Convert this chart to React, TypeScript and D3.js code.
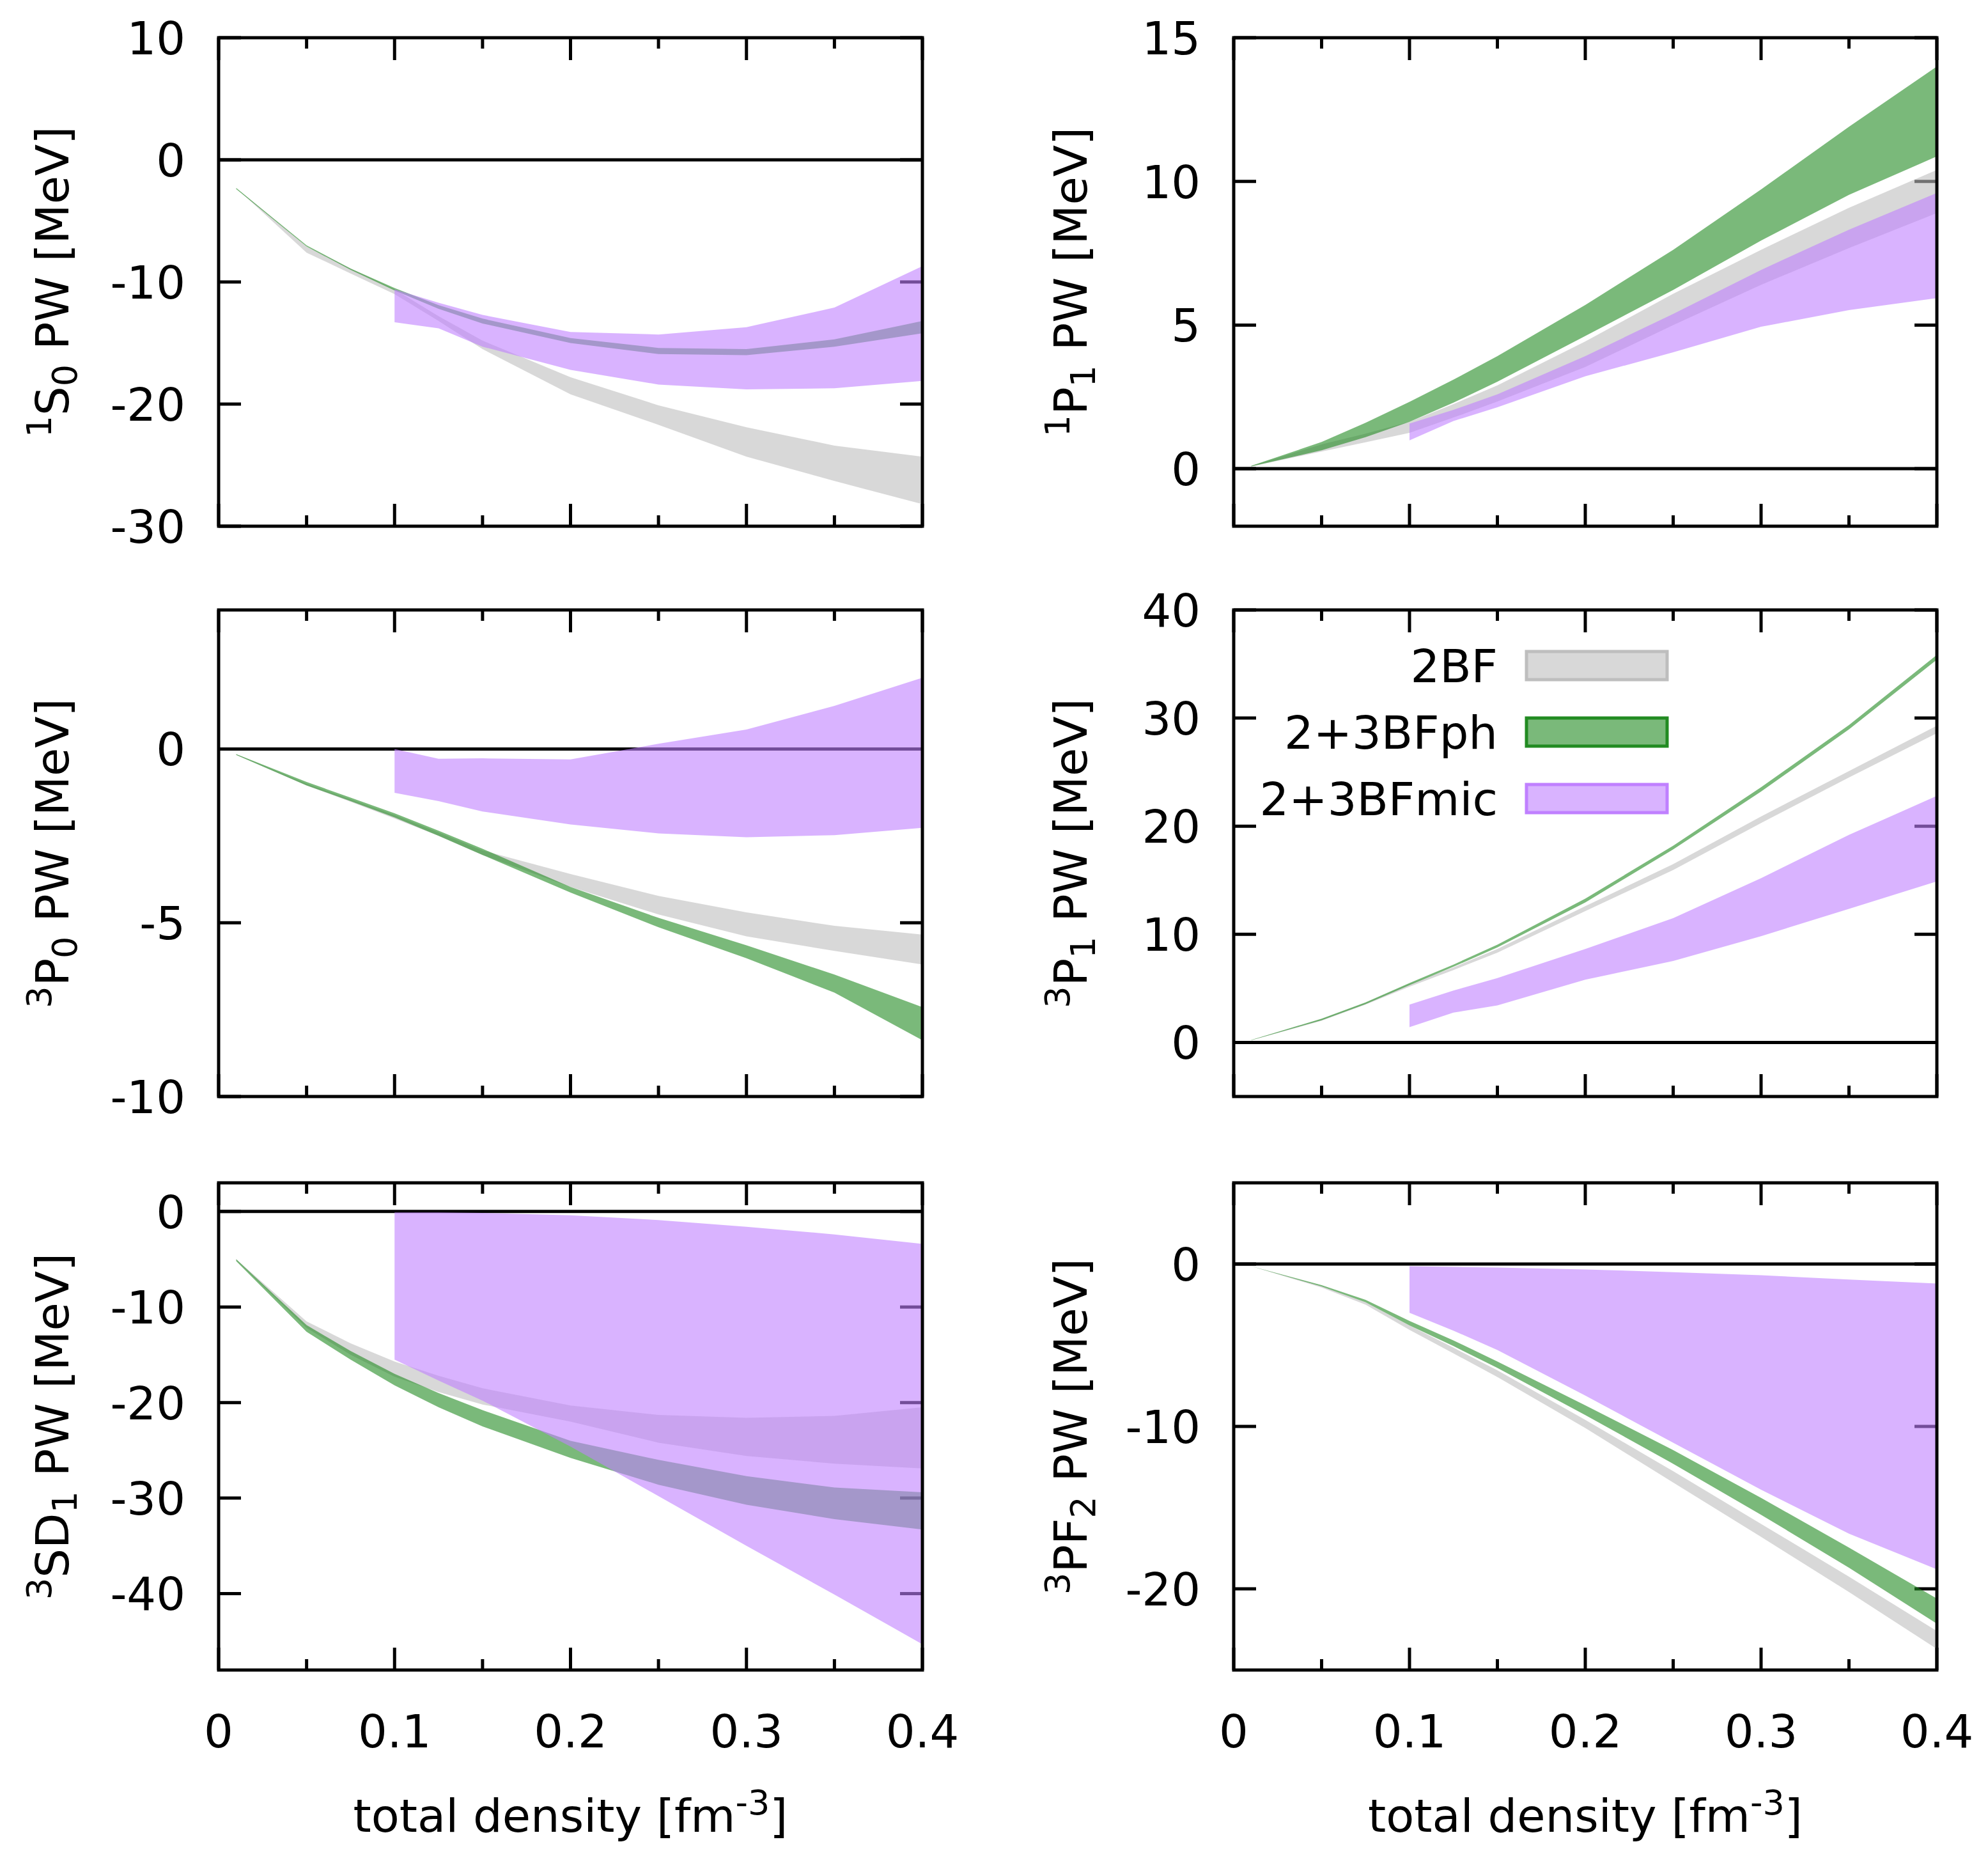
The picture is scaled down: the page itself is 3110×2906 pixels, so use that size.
import React, { useEffect, useRef } from "react";
import * as d3 from "d3";

const W = 3110;
const H = 2906;

// total density [fm^-3]
const density = [0.01, 0.05, 0.075, 0.1, 0.125, 0.15, 0.2, 0.25, 0.3, 0.35, 0.4];
const densityMic = [0.1, 0.125, 0.15, 0.2, 0.25, 0.3, 0.35, 0.4];

// 1S0 partial wave [MeV]
const s1S0_2bfHi = [-2.3, -7.1, -8.9, -10.6, -12.8, -14.8, -17.8, -20.1, -21.9, -23.4, -24.3];
const s1S0_2bfLo = [-2.3, -7.6, -9.3, -11.0, -13.2, -15.5, -19.2, -21.7, -24.3, -26.3, -28.2];
const s1S0_phHi = [-2.3, -7.0, -8.9, -10.5, -11.9, -13.0, -14.6, -15.4, -15.5, -14.7, -13.2];
const s1S0_phLo = [-2.4, -7.1, -9.0, -10.7, -12.2, -13.4, -15.0, -15.9, -16.0, -15.3, -14.2];
const s1S0_micHi = [-10.6, -11.7, -12.7, -14.1, -14.3, -13.7, -12.1, -8.7];
const s1S0_micLo = [-13.3, -13.8, -15.3, -17.2, -18.4, -18.8, -18.7, -18.1];

// 1P1
const p1P1_2bfHi = [0.1, 0.85, 1.22, 1.63, 2.25, 2.9, 4.43, 6.09, 7.62, 9.08, 10.4];
const p1P1_2bfLo = [0.08, 0.6, 0.92, 1.25, 1.78, 2.34, 3.54, 5.0, 6.4, 7.68, 8.9];
const p1P1_phHi = [0.1, 0.93, 1.6, 2.33, 3.1, 3.92, 5.7, 7.62, 9.72, 11.9, 14.0];
const p1P1_phLo = [0.08, 0.64, 1.1, 1.63, 2.3, 3.03, 4.62, 6.22, 7.94, 9.53, 10.87];
const p1P1_micHi = [1.57, 2.05, 2.59, 3.92, 5.39, 6.92, 8.32, 9.6];
const p1P1_micLo = [0.99, 1.66, 2.14, 3.22, 4.05, 4.94, 5.52, 5.94];

// 3P0
const p3P0_2bfHi = [-0.15, -1.0, -1.45, -1.9, -2.4, -2.92, -3.6, -4.23, -4.7, -5.09, -5.34];
const p3P0_2bfLo = [-0.17, -1.05, -1.52, -2.0, -2.5, -3.05, -3.97, -4.76, -5.39, -5.81, -6.2];
const p3P0_phHi = [-0.15, -0.95, -1.4, -1.85, -2.35, -2.87, -3.97, -4.86, -5.65, -6.49, -7.43];
const p3P0_phLo = [-0.17, -1.05, -1.5, -1.97, -2.5, -3.05, -4.13, -5.13, -6.02, -7.01, -8.38];
const p3P0_micHi = [0.0, -0.28, -0.27, -0.3, 0.15, 0.56, 1.24, 2.05];
const p3P0_micLo = [-1.26, -1.5, -1.8, -2.17, -2.43, -2.54, -2.48, -2.27];

// 3P1
const p3P1_2bfHi = [0.22, 2.15, 3.65, 5.4, 6.95, 8.65, 12.6, 16.5, 20.9, 25.1, 29.3];
const p3P1_2bfLo = [0.2, 2.0, 3.5, 5.15, 6.7, 8.3, 12.15, 15.95, 20.3, 24.5, 28.6];
const p3P1_phHi = [0.24, 2.2, 3.7, 5.5, 7.2, 9.05, 13.3, 18.2, 23.6, 29.35, 35.85];
const p3P1_phLo = [0.2, 2.05, 3.55, 5.3, 7.0, 8.8, 12.95, 17.85, 23.2, 28.95, 35.4];
const p3P1_micHi = [3.5, 4.8, 5.96, 8.65, 11.5, 15.2, 19.2, 22.8];
const p3P1_micLo = [1.41, 2.76, 3.43, 5.8, 7.54, 9.83, 12.36, 14.9];

// 3SD1
const sd3SD1_2bfHi = [-5.0, -11.5, -13.8, -15.7, -17.2, -18.5, -20.3, -21.3, -21.6, -21.4, -20.5];
const sd3SD1_2bfLo = [-5.1, -12.2, -15.0, -17.3, -18.9, -20.2, -22.0, -24.2, -25.6, -26.4, -26.9];
const sd3SD1_phHi = [-5.0, -11.9, -14.6, -17.0, -19.0, -20.8, -24.0, -26.0, -27.7, -28.9, -29.4];
const sd3SD1_phLo = [-5.2, -12.6, -15.5, -18.2, -20.5, -22.5, -25.8, -28.6, -30.7, -32.2, -33.3];
const sd3SD1_micHi = [-0.1, -0.1, -0.15, -0.4, -0.9, -1.6, -2.4, -3.4];
const sd3SD1_micLo = [-15.5, -17.7, -19.8, -24.6, -29.8, -35.0, -40.1, -45.3];

// 3PF2
const pf3PF2_2bfHi = [-0.14, -1.35, -2.35, -3.78, -5.15, -6.55, -9.6, -12.76, -16.0, -19.25, -22.6];
const pf3PF2_2bfLo = [-0.14, -1.45, -2.5, -4.06, -5.5, -6.96, -10.1, -13.45, -16.8, -20.2, -23.7];
const pf3PF2_phHi = [-0.14, -1.3, -2.2, -3.5, -4.7, -6.0, -8.7, -11.46, -14.4, -17.46, -20.6];
const pf3PF2_phLo = [-0.14, -1.38, -2.35, -3.78, -5.05, -6.4, -9.3, -12.3, -15.44, -18.7, -22.15];
const pf3PF2_micHi = [-0.14, -0.18, -0.22, -0.33, -0.5, -0.69, -0.95, -1.2];
const pf3PF2_micLo = [-3.0, -4.1, -5.3, -8.1, -11.0, -13.9, -16.6, -18.8];

const seriesNames = ["2BF", "2+3BFph", "2+3BFmic"];
const xTicks = [0, 0.1, 0.2, 0.3, 0.4];
const xMinorTicks = [0.05, 0.15, 0.25, 0.35];

type Part = { t: string; s?: "sup" | "sub" };

const panels = [
  {
    label: [{ t: "1", s: "sup" }, { t: "S" }, { t: "0", s: "sub" }, { t: " PW [MeV]" }] as Part[],
    yDomain: [-30, 10], yTicks: [-30, -20, -10, 0, 10],
    bands: [[s1S0_2bfHi, s1S0_2bfLo], [s1S0_phHi, s1S0_phLo], [s1S0_micHi, s1S0_micLo]],
  },
  {
    label: [{ t: "1", s: "sup" }, { t: "P" }, { t: "1", s: "sub" }, { t: " PW [MeV]" }] as Part[],
    yDomain: [-2, 15], yTicks: [0, 5, 10, 15],
    bands: [[p1P1_2bfHi, p1P1_2bfLo], [p1P1_phHi, p1P1_phLo], [p1P1_micHi, p1P1_micLo]],
  },
  {
    label: [{ t: "3", s: "sup" }, { t: "P" }, { t: "0", s: "sub" }, { t: " PW [MeV]" }] as Part[],
    yDomain: [-10, 4], yTicks: [-10, -5, 0],
    bands: [[p3P0_2bfHi, p3P0_2bfLo], [p3P0_phHi, p3P0_phLo], [p3P0_micHi, p3P0_micLo]],
  },
  {
    label: [{ t: "3", s: "sup" }, { t: "P" }, { t: "1", s: "sub" }, { t: " PW [MeV]" }] as Part[],
    yDomain: [-5, 40], yTicks: [0, 10, 20, 30, 40],
    bands: [[p3P1_2bfHi, p3P1_2bfLo], [p3P1_phHi, p3P1_phLo], [p3P1_micHi, p3P1_micLo]],
    legend: true,
  },
  {
    label: [{ t: "3", s: "sup" }, { t: "SD" }, { t: "1", s: "sub" }, { t: " PW [MeV]" }] as Part[],
    yDomain: [-48, 3], yTicks: [-40, -30, -20, -10, 0],
    bands: [[sd3SD1_2bfHi, sd3SD1_2bfLo], [sd3SD1_phHi, sd3SD1_phLo], [sd3SD1_micHi, sd3SD1_micLo]],
  },
  {
    label: [{ t: "3", s: "sup" }, { t: "PF" }, { t: "2", s: "sub" }, { t: " PW [MeV]" }] as Part[],
    yDomain: [-25, 5], yTicks: [-20, -10, 0],
    bands: [[pf3PF2_2bfHi, pf3PF2_2bfLo], [pf3PF2_phHi, pf3PF2_phLo], [pf3PF2_micHi, pf3PF2_micLo]],
  },
];

const colors = ["#bebebe", "#228b22", "#c080ff"];
const fillOpacity = 0.6;
const FONT = "'DejaVu Sans', Verdana, sans-serif";

const cols = [
  { left: 342, right: 1443, labelX: 107 },
  { left: 1930, right: 3030, labelX: 1700 },
];
const rows = [
  { top: 59, bottom: 823 },
  { top: 954, bottom: 1715 },
  { top: 1850, bottom: 2612 },
];

function appendRich(sel: any, parts: Part[], size: number) {
  let shift = 0;
  parts.forEach((p) => {
    const target = p.s === "sup" ? -27 : p.s === "sub" ? 13 : 0;
    sel
      .append("tspan")
      .attr("dy", target - shift)
      .attr("font-size", p.s ? size * 0.75 : size)
      .text(p.t);
    shift = target;
  });
}

const App: React.FC = () => {
  const svgRef = useRef<SVGSVGElement | null>(null);

  useEffect(() => {
    if (!svgRef.current) return;
    const svg = d3.select(svgRef.current);
    svg.selectAll("*").remove();

    svg.append("rect").attr("width", W).attr("height", H).attr("fill", "#fff");

    panels.forEach((panel, i) => {
      const col = cols[i % 2];
      const row = rows[Math.floor(i / 2)];
      const isBottom = Math.floor(i / 2) === rows.length - 1;

      const x = d3.scaleLinear().domain([0, 0.4]).range([col.left, col.right]);
      const y = d3.scaleLinear().domain(panel.yDomain).range([row.bottom, row.top]);

      const g = svg.append("g");

      // zero line and ticks go below the transparent bands
      g.append("line")
        .attr("x1", x(0)).attr("x2", x(0.4))
        .attr("y1", y(0)).attr("y2", y(0))
        .attr("stroke", "#000").attr("stroke-width", 5);

      const tickG = g.append("g").attr("stroke", "#000").attr("stroke-width", 5);
      [...xTicks.map((t) => [t, 35]), ...xMinorTicks.map((t) => [t, 17])].forEach(([t, len]) => {
        tickG.append("line")
          .attr("x1", x(t)).attr("x2", x(t))
          .attr("y1", row.bottom).attr("y2", row.bottom - len);
        tickG.append("line")
          .attr("x1", x(t)).attr("x2", x(t))
          .attr("y1", row.top).attr("y2", row.top + len);
      });
      panel.yTicks.forEach((t) => {
        tickG.append("line")
          .attr("x1", col.left).attr("x2", col.left + 35)
          .attr("y1", y(t)).attr("y2", y(t));
        tickG.append("line")
          .attr("x1", col.right).attr("x2", col.right - 35)
          .attr("y1", y(t)).attr("y2", y(t));
      });

      // bands: 2BF, 2+3BFph, 2+3BFmic
      panel.bands.forEach(([hi, lo], k) => {
        const xs = k === 2 ? densityMic : density;
        const pts = xs.map((d, j) => ({ x: d, hi: hi[j], lo: lo[j] }));
        const area = d3
          .area<{ x: number; hi: number; lo: number }>()
          .x((d) => x(d.x))
          .y0((d) => y(d.lo))
          .y1((d) => y(d.hi));
        g.append("path")
          .attr("d", area(pts) as string)
          .attr("fill", colors[k])
          .attr("fill-opacity", fillOpacity);
      });

      // frame
      g.append("rect")
        .attr("x", col.left).attr("y", row.top)
        .attr("width", col.right - col.left)
        .attr("height", row.bottom - row.top)
        .attr("fill", "none").attr("stroke", "#000").attr("stroke-width", 5);

      // y tick labels
      panel.yTicks.forEach((t) => {
        g.append("text")
          .attr("x", col.left - 52)
          .attr("y", y(t) + 26)
          .attr("text-anchor", "end")
          .attr("font-family", FONT)
          .attr("font-size", 72)
          .text(String(t));
      });

      // x tick labels on the bottom row
      if (isBottom) {
        xTicks.forEach((t) => {
          g.append("text")
            .attr("x", x(t))
            .attr("y", row.bottom + 121)
            .attr("text-anchor", "middle")
            .attr("font-family", FONT)
            .attr("font-size", 72)
            .text(String(t));
        });
        const xl = g.append("text")
          .attr("x", (col.left + col.right) / 2)
          .attr("y", 2865)
          .attr("text-anchor", "middle")
          .attr("font-family", FONT)
          .attr("font-size", 72)
          .style("white-space", "pre");
        appendRich(xl, [{ t: "total density [fm" }, { t: "-3", s: "sup" }, { t: "]" }], 72);
      }

      // y axis label
      const cy = (row.top + row.bottom) / 2;
      const yl = g.append("text")
        .attr("transform", `translate(${col.labelX},${cy}) rotate(-90)`)
        .attr("text-anchor", "middle")
        .attr("font-family", FONT)
        .attr("font-size", 72)
        .style("white-space", "pre");
      appendRich(yl, panel.label, 72);

      // legend
      if (panel.legend) {
        seriesNames.forEach((name, k) => {
          const ly = row.top + 87 + k * 104;
          g.append("text")
            .attr("x", col.right - 687)
            .attr("y", ly + 26)
            .attr("text-anchor", "end")
            .attr("font-family", FONT)
            .attr("font-size", 72)
            .text(name);
          g.append("rect")
            .attr("x", col.right - 642)
            .attr("y", ly - 22)
            .attr("width", 220)
            .attr("height", 44)
            .attr("fill", colors[k])
            .attr("fill-opacity", fillOpacity)
            .attr("stroke", colors[k])
            .attr("stroke-width", 5);
        });
      }
    });
  }, []);

  return (
    <svg
      ref={svgRef}
      width={W}
      height={H}
      style={{ position: "absolute", left: 0, top: 0 }}
    />
  );
};

export default App;
